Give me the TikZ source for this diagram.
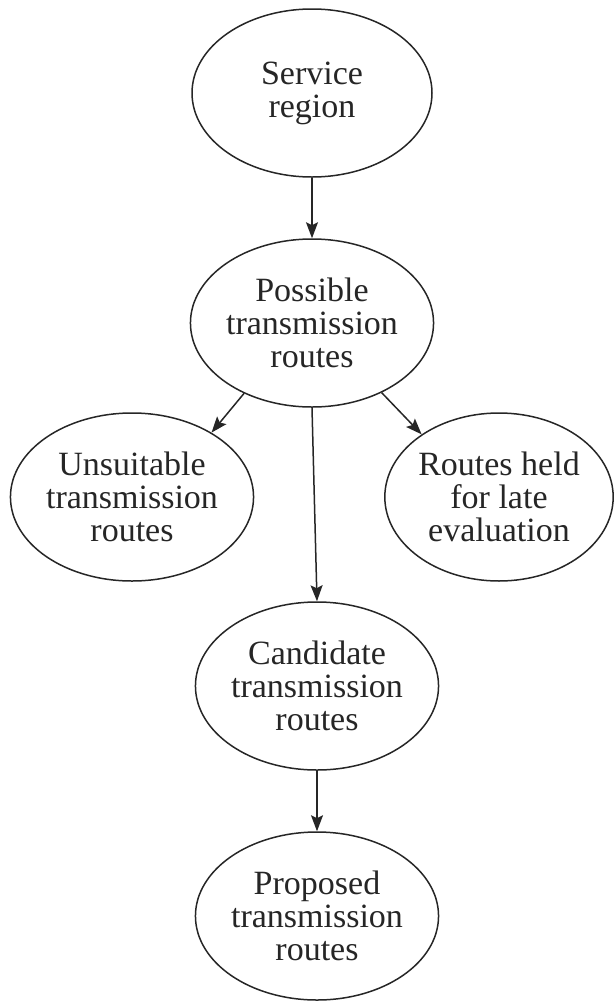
\documentclass[tikz,border=0pt]{standalone}
\usepackage{fontspec}
\setmainfont{Liberation Serif}
\usetikzlibrary{shapes.geometric,arrows.meta}
\begin{document}
\begin{tikzpicture}[x=1pt,y=-1pt,
  oval/.style={draw=black!85,line width=1.5pt,ellipse,minimum width=240pt,minimum height=168pt,inner sep=0pt,align=center,text=black!85,font=\fontsize{34}{33}\selectfont},
  link/.style={draw=black!85,line width=1.5pt,-{Stealth[length=16pt,width=12pt,inset=3pt]}}]
\useasboundingbox (0,0) rectangle (614,1002);
\node[oval] (svc) at (312,93) {Service\\region};
\node[oval] (poss) at (312,323) {Possible\\transmission\\routes};
\node[oval,minimum width=238pt] (uns) at (132,497) {Unsuitable\\transmission\\routes};
\node[oval,minimum width=228pt] (held) at (499,497) {Routes held\\for late\\evaluation};
\node[oval] (cand) at (317,686) {Candidate\\transmission\\routes};
\node[oval] (prop) at (317,916) {Proposed\\transmission\\routes};
\draw[link] (svc) -- (poss);
\draw[link] (poss.226) -- (uns.39);
\draw[link] (poss.315) -- (held.141);
\draw[link] (poss.south) -- (cand.north);
\draw[link] (cand) -- (prop);
\end{tikzpicture}
\end{document}
